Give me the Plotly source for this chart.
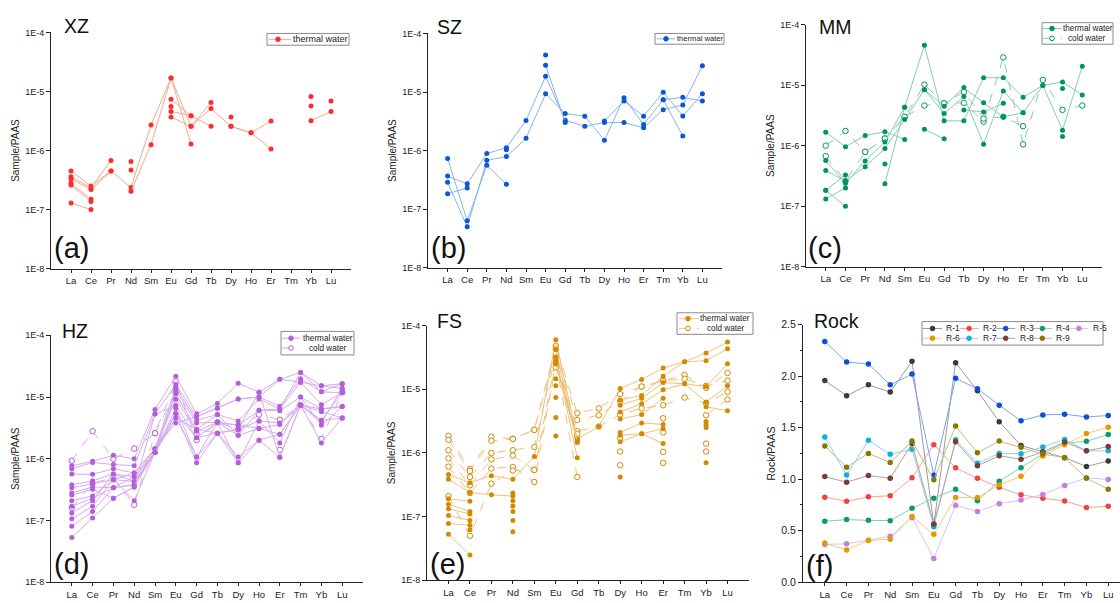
import plotly.graph_objects as go

W, H = 1120, 603
FONT = "Arial, Liberation Sans, sans-serif"

elements = ["La", "Ce", "Pr", "Nd", "Sm", "Eu", "Gd", "Tb", "Dy", "Ho", "Er", "Tm", "Yb", "Lu"]
log_ticks = [1e-8, 1e-7, 1e-6, 1e-5, 1e-4]
log_tick_text = ["1E-8", "1E-7", "1E-6", "1E-5", "1E-4"]
N = None

# ---------------- (a) XZ thermal water ----------------
xz_thermal = [
    [4.5e-7, 2.5e-7, 4.5e-7, 2.37e-7, 2.7e-6, 1.69e-5, 2.57e-6, 6.5e-6, N, N, N, N, 8.2e-6, N],
    [3.6e-7, 2.35e-7, 6.8e-7, N, N, 7.4e-6, 3.9e-6, 2.57e-6, N, N, N, N, N, 6.9e-6],
    [3.3e-7, 2.2e-7, 4.5e-7, N, N, 5.6e-6, N, N, 3.7e-6, N, N, N, 5.7e-6, N],
    [2.8e-7, 1.5e-7, N, 2.04e-7, 1.26e-6, 1.69e-5, 1.29e-6, N, N, N, N, N, N, N],
    [2.6e-7, 1.37e-7, N, 6.5e-7, N, 3.7e-6, 2.57e-6, 5.15e-6, 2.57e-6, 2.0e-6, 3.17e-6, N, 3.2e-6, 4.6e-6],
    [1.3e-7, 1.0e-7, N, 4.7e-7, N, 4.6e-6, 3.9e-6, N, 2.57e-6, 2.0e-6, 1.06e-6, N, N, N],
]

# ---------------- (b) SZ thermal water ----------------
sz_thermal = [
    [3.66e-7, 2.7e-7, 8.9e-7, 1.12e-6, 3.27e-6, 1.85e-5, 3.3e-6, 2.6e-6, 3.0e-6, 3.0e-6, 2.45e-6, 5.0e-6, 6.0e-6, 2.8e-5],
    [2.87e-7, 5.0e-8, 6.8e-7, 7.9e-7, 1.62e-6, 9.3e-6, 4.3e-6, 3.87e-6, 1.5e-6, 8.0e-6, 2.8e-6, 7.4e-6, 8.1e-6, 7.0e-6],
    [7.3e-7, 6.3e-8, 5.6e-7, 2.66e-7, N, 2.86e-5, 3.0e-6, N, 3.2e-6, 7.0e-6, 3.87e-6, 9.9e-6, 3.9e-6, 9.3e-6],
    [1.83e-7, 2.3e-7, N, 1.03e-6, N, 4.28e-5, N, N, N, N, N, 7.4e-6, 1.77e-6, N],
]

# ---------------- (c) MM ----------------
mm_thermal = [
    [1.67e-6, 9.6e-7, 1.47e-6, 1.7e-6, 1.27e-6, N, N, N, N, N, N, N, N, N],
    [5.7e-7, 2.4e-7, 5.6e-7, 1.15e-6, 4.3e-6, 4.55e-5, 2.57e-6, 2.57e-6, 1.33e-5, 1.32e-5, 6.3e-6, 9.9e-6, 1.13e-5, 6.9e-6],
    [3.9e-7, 2.6e-7, 4.5e-7, 9.0e-7, 2.7e-6, 8.4e-6, 4.5e-6, 9.1e-6, 5.1e-6, 3.0e-6, 3.5e-6, 9.9e-6, 1.8e-6, 2.06e-5],
    [1.84e-7, 3.27e-7, N, 5.0e-7, N, 8.4e-6, 3.4e-6, 6.5e-6, 1.06e-6, 8.0e-6, 3.5e-6, N, 1.42e-6, N],
    [1.32e-7, 2.0e-7, N, 2.35e-7, 4.3e-6, N, N, 3.9e-6, 3.6e-6, 5.0e-6, N, N, 8.8e-6, N],
    [1.84e-7, 1.0e-7, N, N, N, 1.86e-6, 1.3e-6, N, N, N, N, N, N, N],
]
mm_cold = [
    [1.0e-6, 1.75e-6, 7.9e-7, 1.31e-6, 2.98e-6, 4.6e-6, 5.0e-6, 5.1e-6, 2.5e-6, 2.87e-5, 1.05e-6, 1.22e-5, 3.9e-6, 4.6e-6],
    [6.7e-7, 2.6e-7, 7.9e-7, 1.31e-6, 2.98e-6, 1.02e-5, 5.0e-6, 7.7e-6, 2.8e-6, 3.0e-6, 2.1e-6, N, N, N],
]

# ---------------- (d) HZ ----------------
hz_thermal = [
    [7.7e-7, 9.1e-7, 1.14e-6, 1.0e-6, 6.3e-6, 2.17e-5, 5.35e-6, 7.9e-6, 1.67e-5, 1.2e-5, 1.94e-5, 2.5e-5, 1.52e-5, 1.38e-5],
    [6.9e-7, 8.7e-7, 8.1e-7, 7.7e-7, 5.3e-6, 1.6e-5, 4.8e-6, 6.6e-6, 9.3e-6, 1.0e-5, 7.1e-6, 1.98e-5, 1.22e-5, 1.65e-5],
    [5.65e-7, 5.6e-7, 6.9e-7, 5.9e-7, 1.46e-6, 1.44e-5, 4.2e-6, 5.2e-6, 4.1e-6, 9.3e-6, 6.4e-6, 1.74e-5, 7.5e-6, 1.17e-5],
    [3.8e-7, 4.4e-7, 5.7e-7, 5.1e-7, 1.27e-6, 1.3e-5, 3.8e-6, 3.9e-6, 3.5e-6, 6.1e-6, 6.0e-6, 1.0e-5, 6.4e-6, 7.0e-6],
    [3.4e-7, 4.0e-7, 4.6e-7, 4.3e-7, 1.27e-6, 1.13e-5, 2.98e-6, 2.6e-6, 3.0e-6, 4.1e-6, 3.8e-6, 7.4e-6, 5.8e-6, 4.6e-6],
    [2.8e-7, 3.5e-7, 3.4e-7, 3.8e-7, 1.46e-6, 9.2e-6, 2.8e-6, 3.9e-6, 2.4e-6, 3.1e-6, 3.6e-6, 7.4e-6, 4.2e-6, 1.17e-5],
    [2.6e-7, 3.2e-7, 2.3e-7, 3.5e-7, 5.3e-6, 7.3e-6, 2.2e-6, 2.6e-6, 1.07e-6, 2.0e-6, 2.5e-6, 7.4e-6, 3.85e-6, 1.38e-5],
    [2.1e-7, 2.5e-7, 4.6e-7, 2.1e-7, 1.27e-6, 6.6e-6, 1.07e-6, 3.9e-6, 8.6e-7, 4.1e-6, 1.8e-6, 1.0e-5, 3.5e-6, 7.0e-6],
    [1.7e-7, 2.3e-7, 3.4e-7, 5.1e-7, 1.46e-6, 5.4e-6, 8.6e-7, 2.6e-6, 3.0e-6, 1.2e-5, 1.06e-6, 7.4e-6, 1.8e-6, 4.6e-6],
    [1.33e-7, 2.1e-7, 5.7e-7, 4.3e-7, 1.27e-6, 4.6e-6, 2.98e-6, 5.2e-6, 2.4e-6, 6.1e-6, 6.4e-6, 2.5e-5, 1.22e-5, 1.17e-5],
    [1.07e-7, 1.7e-7, 4.6e-7, 5.9e-7, 1.46e-6, 3.8e-6, 4.8e-6, 6.6e-6, 9.3e-6, 1.0e-5, 1.94e-5, 1.74e-5, 1.52e-5, 1.65e-5],
    [8.1e-8, 1.4e-7, 3.4e-7, 3.8e-7, 1.27e-6, 5.4e-6, 2.2e-6, 3.9e-6, 3.5e-6, 3.1e-6, 2.5e-6, 7.4e-6, 6.4e-6, 7.0e-6],
    [5.3e-8, 1.1e-7, 2.3e-7, 3.5e-7, 1.27e-6, 4.6e-6, 1.07e-6, 2.6e-6, 8.6e-7, 2.0e-6, 1.06e-6, 7.4e-6, 4.2e-6, 4.6e-6],
]
hz_cold = [
    [9.3e-7, 2.8e-6, 1.0e-6, 1.46e-6, 2.6e-6, 1.8e-5, 2.0e-6, 3.9e-6, 3.0e-6, 5.2e-6, 4.3e-6, 7.4e-6, 2.1e-6, 1.2e-5],
    [1.6e-7, 4.0e-7, 5.0e-7, 1.8e-7, 2.6e-6, 1.2e-5, 2.5e-6, N, N, N, 1.4e-6, N, N, N],
]

# ---------------- (e) FS ----------------
fs_thermal = [
    [4.6e-7, 3.4e-7, 4.4e-7, 3.85e-7, 8.8e-7, 6.0e-5, 1.64e-6, 2.6e-6, 1.03e-5, 1.42e-5, 2.15e-5, 2.7e-5, 3.7e-5, 5.5e-5],
    [3.85e-7, 2.4e-7, 2.2e-7, 2.1e-7, N, 4.2e-5, 1.46e-6, N, 6.8e-6, 8.0e-6, 1.6e-5, 2.7e-5, 2.8e-5, 4.3e-5],
    [1.9e-7, 1.75e-7, N, N, N, 3.2e-5, 8.4e-7, N, 5.6e-6, 7.2e-6, 1.27e-5, 1.22e-5, 1.1e-5, 2.5e-5],
    [1.57e-7, 1.2e-7, N, 1.77e-7, N, 2.8e-5, 1.6e-6, N, 4.4e-6, 5.9e-6, 9.8e-6, 1.22e-5, 6.3e-6, 1.13e-5],
    [1.33e-7, 1.1e-7, N, 1.47e-7, N, 2.5e-5, 1.5e-6, N, 3.4e-6, 4.0e-6, 7.2e-6, N, 5.3e-6, 4.6e-6],
    [1.04e-7, 8.7e-8, N, 1.2e-7, N, 1.46e-5, N, N, 2.1e-6, 2.96e-6, 2.8e-6, N, 3.1e-6, N],
    [7.8e-8, 7.3e-8, N, 8.7e-8, N, 1.13e-5, N, N, 1.9e-6, 2.0e-6, 2.4e-6, N, 2.8e-6, N],
    [5.3e-8, 2.5e-8, N, 5.8e-8, N, 7.4e-6, N, N, 1.5e-6, 2.0e-6, 1.4e-6, N, 2.5e-6, N],
    [N, 6.2e-8, N, 2.35e-7, N, 3.6e-6, N, N, 4.2e-7, N, N, N, 7.0e-7, N],
    [N, N, N, N, N, 1.85e-6, N, N, N, N, N, N, N, N],
]
fs_cold = [
    [1.85e-6, 5.55e-7, 1.8e-6, 1.66e-6, 2.3e-6, 4.8e-5, 4.2e-6, 5.0e-6, 8.4e-6, 1.1e-5, 1.35e-5, 1.68e-5, 1.05e-5, 1.8e-5],
    [1.6e-6, 5.2e-7, 1.55e-6, 1.66e-6, 2.3e-6, 4.2e-5, 3.3e-6, 3.9e-6, 6.5e-6, 1.1e-5, 1.35e-5, 1.46e-5, 1.13e-5, 1.36e-5],
    [1.1e-6, 4.2e-7, 1.0e-6, 1.1e-6, 1.24e-6, 3.6e-5, 2.2e-6, 2.6e-6, 4.0e-6, 5.0e-6, 5.6e-6, 7.4e-6, 6.0e-6, 9.1e-6],
    [8.2e-7, 3.1e-7, 7.9e-7, 9.1e-7, 5.4e-7, 3.0e-5, 1.8e-6, N, 1.7e-6, N, 3.5e-6, N, 3.9e-6, 6.9e-6],
    [6.1e-7, 2.35e-7, 5.7e-7, 6.0e-7, 3.5e-7, 2.6e-5, 4.2e-7, N, 1.05e-6, N, 2.1e-6, N, 1.4e-6, N],
    [2.1e-7, 5.0e-8, 3.3e-7, 5.3e-7, 5.4e-7, 2.2e-5, 2.0e-6, N, 6.4e-7, N, 1.04e-6, N, 1.05e-6, N],
    [N, N, N, N, N, N, N, N, N, N, 7.0e-7, N, N, N],
]

# ---------------- (f) Rock ----------------
rock_names = ["R-1", "R-2", "R-3", "R-4", "R-5", "R-6", "R-7", "R-8", "R-9"]
rock_values = [
    [1.956, 1.81, 1.915, 1.845, 2.145, 0.56, 2.13, 1.858, 1.557, 1.326, 1.266, 1.209, 1.123, 1.177],
    [0.826, 0.785, 0.829, 0.839, 1.013, 1.335, 1.11, 1.01, 0.921, 0.848, 0.816, 0.788, 0.725, 0.737],
    [2.335, 2.136, 2.117, 1.915, 2.019, 1.038, 1.978, 1.877, 1.718, 1.566, 1.623, 1.63, 1.604, 1.617],
    [0.592, 0.608, 0.601, 0.598, 0.718, 0.816, 0.902, 0.791, 0.981, 1.11, 1.244, 1.351, 1.367, 1.434],
    [0.367, 0.373, 0.408, 0.446, 0.627, 0.231, 0.747, 0.687, 0.763, 0.797, 0.851, 0.94, 1.013, 0.997],
    [0.38, 0.313, 0.405, 0.418, 0.639, 0.465, 0.823, 0.823, 0.943, 1.028, 1.225, 1.335, 1.443, 1.503],
    [1.408, 1.041, 1.377, 1.241, 1.29, 0.538, 1.383, 1.155, 1.25, 1.247, 1.313, 1.386, 1.275, 1.275],
    [1.025, 0.971, 1.035, 1.01, 1.345, 0.566, 1.364, 1.13, 1.228, 1.193, 1.263, 1.361, 1.275, 1.316],
    [1.323, 1.117, 1.25, 1.161, 1.37, 0.994, 1.516, 1.256, 1.37, 1.31, 1.244, 1.209, 1.009, 0.902],
]
rock_marker_colors = ["#3a3a3a", "#f0433a", "#0a4fd4", "#12996a", "#c27fe0", "#e09a00", "#12b0d4", "#7a3c34", "#857a00"]
rock_line_colors = ["#9a9a9a", "#f7a09a", "#7ea2ea", "#86ccb2", "#e0bff0", "#f0cc7a", "#88d8ea", "#bd9d99", "#c2bc7f"]

# ---------------- layout helpers (pixel boxes) ----------------
panels = [
    dict(ax="", x=(51, 351), y=(27, 268), mc="#ff2a2a", lc="#f4a88a", xr=[-1, 14]),
    dict(ax="2", x=(428, 722), y=(28, 267), mc="#0a56d6", lc="#86b4ec", xr=[-1, 14]),
    dict(ax="3", x=(806, 1102), y=(19, 266), mc="#00955a", lc="#82d0aa", xr=[-1, 14]),
    dict(ax="4", x=(51, 363), y=(336, 588), mc="#b35fd9", lc="#d6abeb", xr=[-1, 14]),
    dict(ax="5", x=(427, 749), y=(326, 586), mc="#d48a00", lc="#eec27a", xr=[-1, 14]),
    dict(ax="6", x=(803, 1120), y=(325, 588), mc=None, lc=None, xr=[-1, 13.54]),
]

fig = go.Figure()


def add_series(p, series, dashed=False):
    for vals in series:
        if dashed:
            marker = dict(size=5.5, color="white", symbol="circle",
                          line=dict(color=p["mc"], width=1))
        else:
            marker = dict(size=5, color=p["mc"], symbol="circle")
        fig.add_trace(go.Scatter(
            x=elements, y=vals, mode="lines+markers", showlegend=False,
            xaxis="x" + p["ax"], yaxis="y" + p["ax"],
            line=dict(color=p["lc"], width=1, dash="dash" if dashed else "solid"),
            marker=marker, connectgaps=False, hoverinfo="skip"))


add_series(panels[0], xz_thermal)
add_series(panels[1], sz_thermal)
add_series(panels[2], mm_cold, dashed=True)
add_series(panels[2], mm_thermal)
add_series(panels[3], hz_cold, dashed=True)
add_series(panels[3], hz_thermal)
add_series(panels[4], fs_cold, dashed=True)
add_series(panels[4], fs_thermal)

for name, vals, mc, lc in zip(rock_names, rock_values, rock_marker_colors, rock_line_colors):
    fig.add_trace(go.Scatter(
        x=elements, y=vals, mode="lines+markers", name=name, showlegend=False,
        xaxis="x6", yaxis="y6", line=dict(color=lc, width=1),
        marker=dict(size=5.5, color=mc), hoverinfo="skip"))

layout = dict(
    width=W, height=H, margin=dict(l=0, r=0, t=0, b=0),
    paper_bgcolor="white", plot_bgcolor="white",
    font=dict(family=FONT, color="#222", size=10),
    showlegend=False,
)

for i, p in enumerate(panels):
    k = p["ax"]
    xd = [p["x"][0] / W, p["x"][1] / W]
    yd = [1 - p["y"][1] / H, 1 - p["y"][0] / H]
    layout["xaxis" + k] = dict(
        domain=xd, anchor="y" + k, type="category", categoryorder="array",
        categoryarray=elements, range=p["xr"], showline=True, linecolor="#222",
        linewidth=1, ticks="outside", ticklen=3, tickcolor="#222",
        tickfont=dict(size=9.5, color="#222"), showgrid=False, zeroline=False)
    if i < 5:
        layout["yaxis" + k] = dict(
            domain=yd, anchor="x" + k, type="log", range=[-8, -4],
            tickmode="array", tickvals=log_ticks, ticktext=log_tick_text,
            showline=True, linecolor="#222", linewidth=1, ticks="outside",
            ticklen=4, tickcolor="#222", tickfont=dict(size=9, color="#222"),
            showgrid=False, zeroline=False,
            title=dict(text="Sample/PAAS", font=dict(size=10, color="#222"), standoff=3))
    else:
        layout["yaxis" + k] = dict(
            domain=yd, anchor="x" + k, range=[0, 2.5], dtick=0.5, tickformat=".1f",
            showline=True, linecolor="#222", linewidth=1, ticks="outside",
            ticklen=4, tickcolor="#222", tickfont=dict(size=10.5, color="#222"),
            minor=dict(dtick=0.25, ticks="outside", ticklen=2, tickcolor="#222"),
            showgrid=False, zeroline=False,
            title=dict(text="Rock/PAAS", font=dict(size=10.5, color="#222"), standoff=3))

shapes = []
annotations = []


def px(xp):
    return xp / W


def py(yp):
    return 1 - yp / H


def legend_box(x0, y0, x1, y1):
    shapes.append(dict(type="rect", xref="paper", yref="paper", x0=px(x0), x1=px(x1),
                       y0=py(y1), y1=py(y0), line=dict(color="#8a8a8a", width=1),
                       fillcolor="white", layer="above"))


def legend_entry(lx0, lx1, mx, y, tx, label, lcolor, mcolor, size, dash="solid",
                 open_=False, anchor="center"):
    shapes.append(dict(type="line", xref="paper", yref="paper", x0=px(lx0), x1=px(lx1),
                       y0=py(y), y1=py(y), line=dict(color=lcolor, width=1, dash=dash),
                       layer="above"))
    shapes.append(dict(type="circle", xref="paper", yref="paper", xsizemode="pixel",
                       ysizemode="pixel", xanchor=px(mx), yanchor=py(y),
                       x0=-2.3, x1=2.3, y0=-2.3, y1=2.3,
                       fillcolor="white" if open_ else mcolor,
                       line=dict(color=mcolor, width=1), layer="above"))
    annotations.append(dict(text=label, x=px(tx), y=py(y), xref="paper", yref="paper",
                            xanchor=anchor, yanchor="middle", showarrow=False,
                            font=dict(size=size, color="#222")))


# (a)
legend_box(267, 28, 349, 40)
legend_entry(269, 291, 278, 34, 320, "thermal water", panels[0]["lc"], panels[0]["mc"], 9)
# (b)
legend_box(655, 28, 724, 39)
legend_entry(657, 675, 666, 33.5, 700, "thermal water", panels[1]["lc"], panels[1]["mc"], 7.6)
# (c)
legend_box(1042, 17, 1113, 39)
legend_entry(1043, 1062, 1052, 23, 1088, "thermal water", panels[2]["lc"], panels[2]["mc"], 8.2)
legend_entry(1043, 1062, 1052, 33, 1087, "cold water", panels[2]["lc"], panels[2]["mc"], 8.2,
             dash="dash", open_=True)
# (d)
legend_box(281, 332, 354, 356)
legend_entry(282, 300, 291, 339, 328, "thermal water", panels[3]["lc"], panels[3]["mc"], 8.2)
legend_entry(282, 300, 291, 349, 328, "cold water", panels[3]["lc"], panels[3]["mc"], 8.2,
             dash="dash", open_=True)
# (e)
legend_box(677, 313, 753, 335)
legend_entry(679, 699, 688, 319, 725, "thermal water", panels[4]["lc"], panels[4]["mc"], 8.2)
legend_entry(679, 699, 688, 329, 726, "cold water", panels[4]["lc"], panels[4]["mc"], 8.2,
             dash="dash", open_=True)
# (f)
legend_box(922, 322, 1103, 346)
for i, (name, mc, lc) in enumerate(zip(rock_names, rock_marker_colors, rock_line_colors)):
    col, row = i % 5, i // 5
    x0 = 923 + col * 36.6
    legend_entry(x0, x0 + 19, x0 + 9.5, 329 + row * 10, x0 + 21.5, name, lc, mc, 8.5,
                 anchor="left")

# panel titles and letters
titles = [("XZ", 62, 20), ("SZ", 435, 21), ("MM", 817, 21),
          ("HZ", 60, 332), ("FS", 435, 321), ("Rock", 812, 321)]
for t, x, y in titles:
    annotations.append(dict(text=t, x=px(x), y=py(y), xref="paper", yref="paper",
                            xanchor="left", yanchor="middle", showarrow=False,
                            font=dict(size=19.5, color="#111")))
letters = [("(a)", 52, 247), ("(b)", 429, 247), ("(c)", 806, 247),
           ("(d)", 52, 569), ("(e)", 428, 569), ("(f)", 804, 571)]
for t, x, y in letters:
    annotations.append(dict(text=t, x=px(x), y=py(y), xref="paper", yref="paper",
                            xanchor="left", yanchor="middle", showarrow=False,
                            font=dict(size=29, color="#111")))

layout["shapes"] = shapes
layout["annotations"] = annotations
fig.update_layout(**layout)
fig.write_html("out.html")
